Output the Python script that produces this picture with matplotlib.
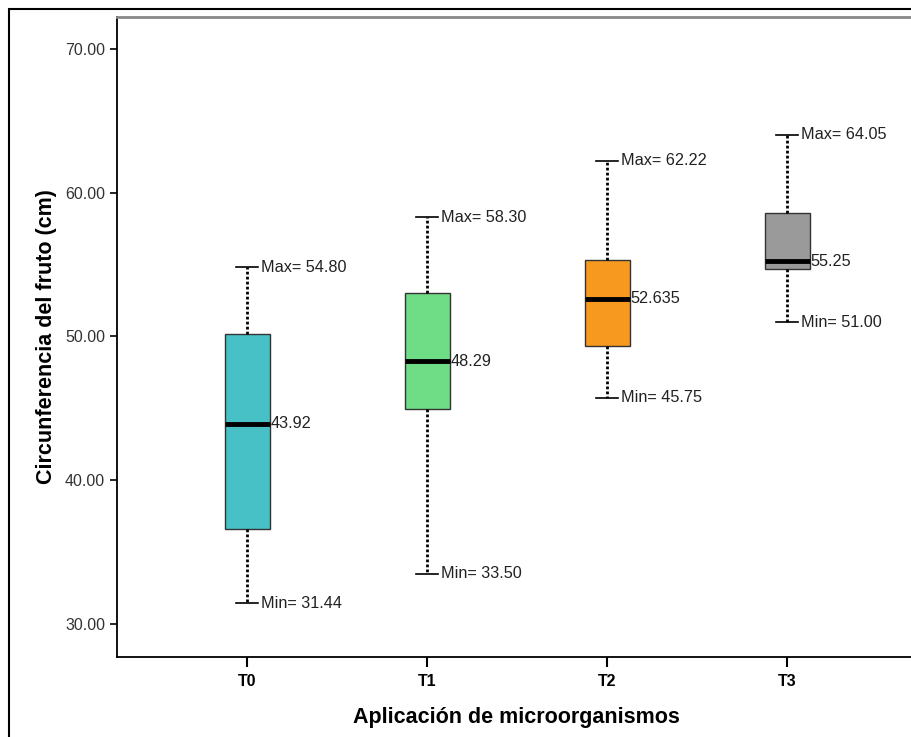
import matplotlib
matplotlib.use("Agg")
import matplotlib.pyplot as plt
from matplotlib.patches import Rectangle

plt.rcParams["font.family"] = ["Liberation Sans", "DejaVu Sans"]

groups = ["T0", "T1", "T2", "T3"]
mins = [31.44, 33.50, 45.75, 51.00]
q1s = [36.60, 44.96, 49.34, 54.70]
medians = [43.92, 48.29, 52.635, 55.25]
q3s = [50.17, 53.03, 55.32, 58.59]
maxs = [54.80, 58.30, 62.22, 64.05]
median_labels = ["43.92", "48.29", "52.635", "55.25"]
max_labels = ["54.80", "58.30", "62.22", "64.05"]
min_labels = ["31.44", "33.50", "45.75", "51.00"]
colors = ["#48C1C6", "#6FDC86", "#F7981F", "#9A9A9A"]

fig = plt.figure(figsize=(9.12, 7.37), dpi=100)
ax = fig.add_axes([0.1283, 0.1085, 0.877, 0.8685])

# outer frame
fig.patches.append(Rectangle((9 / 912, -0.05), 1.0, 1 - 9 / 737 + 0.05,
                             transform=fig.transFigure, fill=False,
                             edgecolor="black", linewidth=1.5))

stats = []
for g, lo, a, m, b, hi in zip(groups, mins, q1s, medians, q3s, maxs):
    stats.append(dict(label=g, whislo=lo, q1=a, med=m, q3=b, whishi=hi, fliers=[]))

pos = [1, 2, 3, 4]
bp = ax.bxp(stats, positions=pos, widths=0.25, patch_artist=True,
            showfliers=False,
            boxprops=dict(edgecolor="#333333", linewidth=1.0),
            medianprops=dict(color="black", linewidth=3.5, solid_capstyle="butt"),
            whiskerprops=dict(color="black", linewidth=2.0, linestyle=(0, (1.0, 0.8))),
            capprops=dict(color="black", linewidth=1.2),
            capwidths=0.12)
for patch, c in zip(bp["boxes"], colors):
    patch.set_facecolor(c)

for p, m, ml, lo, mnl, hi, mxl in zip(pos, medians, median_labels, mins,
                                      min_labels, maxs, max_labels):
    ax.text(p + 0.13, m, ml, va="center", ha="left", fontsize=11.7, color="#222222")
    ax.text(p + 0.075, hi, "Max= " + mxl, va="center", ha="left", fontsize=11.7, color="#222222")
    ax.text(p + 0.075, lo, "Min= " + mnl, va="center", ha="left", fontsize=11.7, color="#222222")

ax.set_xlim(0.278, 4.72)
ax.set_ylim(27.7, 72.23)
ax.set_yticks([30, 40, 50, 60, 70])
ax.set_yticklabels(["30.00", "40.00", "50.00", "60.00", "70.00"], fontsize=11.5, color="#333333")
ax.set_xticks(pos)
ax.set_xticklabels(groups, fontsize=11.5, fontweight="bold")
ax.tick_params(axis="y", length=5, width=1.2)
ax.tick_params(axis="x", length=7, width=1.5, pad=5)

for s in ["left", "bottom"]:
    ax.spines[s].set_linewidth(1.3)
ax.spines["top"].set_color("#888888")
ax.spines["top"].set_linewidth(2)
ax.spines["right"].set_visible(False)

ax.set_ylabel("Circunferencia del fruto (cm)", fontsize=15.5, fontweight="bold", labelpad=6)
ax.set_xlabel("Aplicación de microorganismos", fontsize=15.5, fontweight="bold", labelpad=13)

fig.savefig("out.png", dpi=100)
